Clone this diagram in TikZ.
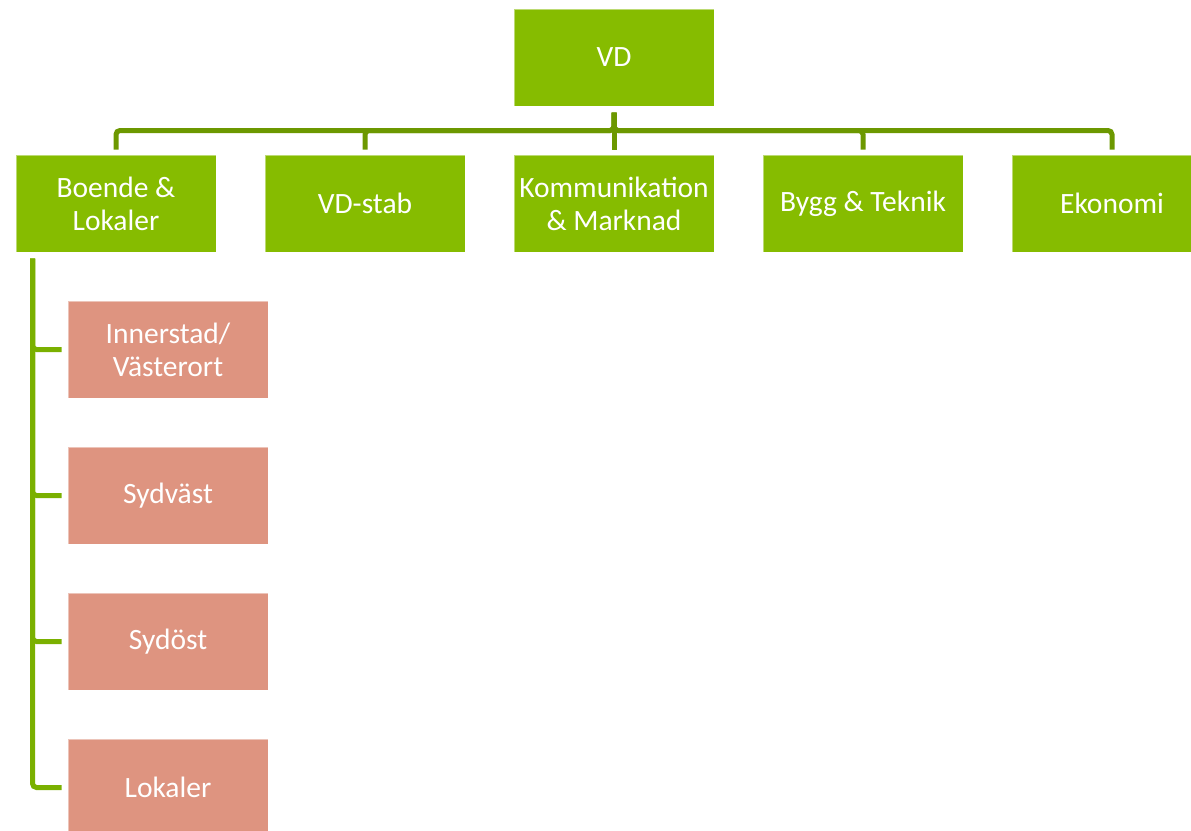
\documentclass[tikz,border=0pt]{standalone}
\usepackage{fontspec}
\setmainfont{Carlito}
\definecolor{boxgreen}{HTML}{86BC00}
\definecolor{busgreen}{HTML}{6C9800}
\definecolor{sidegreen}{HTML}{7AB000}
\definecolor{salmon}{HTML}{DE9480}
\tikzset{
  box/.style={rectangle, minimum width=200pt, minimum height=97pt, inner sep=2pt,
    text=white, align=center, font=\fontsize{29.5}{33}\selectfont,
    draw=white, draw opacity=0.45, line width=1pt},
  topbox/.style={box, fill=boxgreen},
  subbox/.style={box, fill=salmon},
  bus/.style={draw=busgreen, line width=5pt, rounded corners=4pt},
  side/.style={draw=sidegreen, line width=5pt, rounded corners=4pt},
}
\begin{document}
\begin{tikzpicture}[x=1pt,y=-1pt]
\useasboundingbox (0,0) rectangle (1191,830);
\node[topbox] (vd) at (614,57.5) {VD};
\node[topbox] (boende) at (116,203.5) {Boende \&\\Lokaler};
\node[topbox] (stab) at (365,203.5) {VD-stab};
\node[topbox] (komm) at (614,203.5) {Kommunikation\\\& Marknad};
\node[topbox] (bygg) at (863,203.5) {Bygg \& Teknik};
\node[topbox] (ekon) at (1112,203.5) {Ekonomi};
\node[subbox] (inner) at (168,349.5) {Innerstad/\\Västerort};
\node[subbox] (sydv) at (168,495.5) {Sydväst};
\node[subbox] (syd) at (168,641.5) {Sydöst};
\node[subbox] (lok) at (168,787.5) {Lokaler};
\coordinate (busc) at (614,130.5);
\foreach \c in {boende,stab,bygg,ekon}{
  \draw[bus] ([yshift=-6pt]vd.south) -- (busc) -| ([yshift=5pt]\c.north);
}
\draw[bus] ([yshift=-6pt]vd.south) -- ([yshift=5pt]komm.north);
\foreach \c in {inner,sydv,syd,lok}{
  \draw[side] ([xshift=17pt,yshift=-6pt]boende.south west) |- ([xshift=-6pt]\c.west);
}
\end{tikzpicture}
\end{document}
